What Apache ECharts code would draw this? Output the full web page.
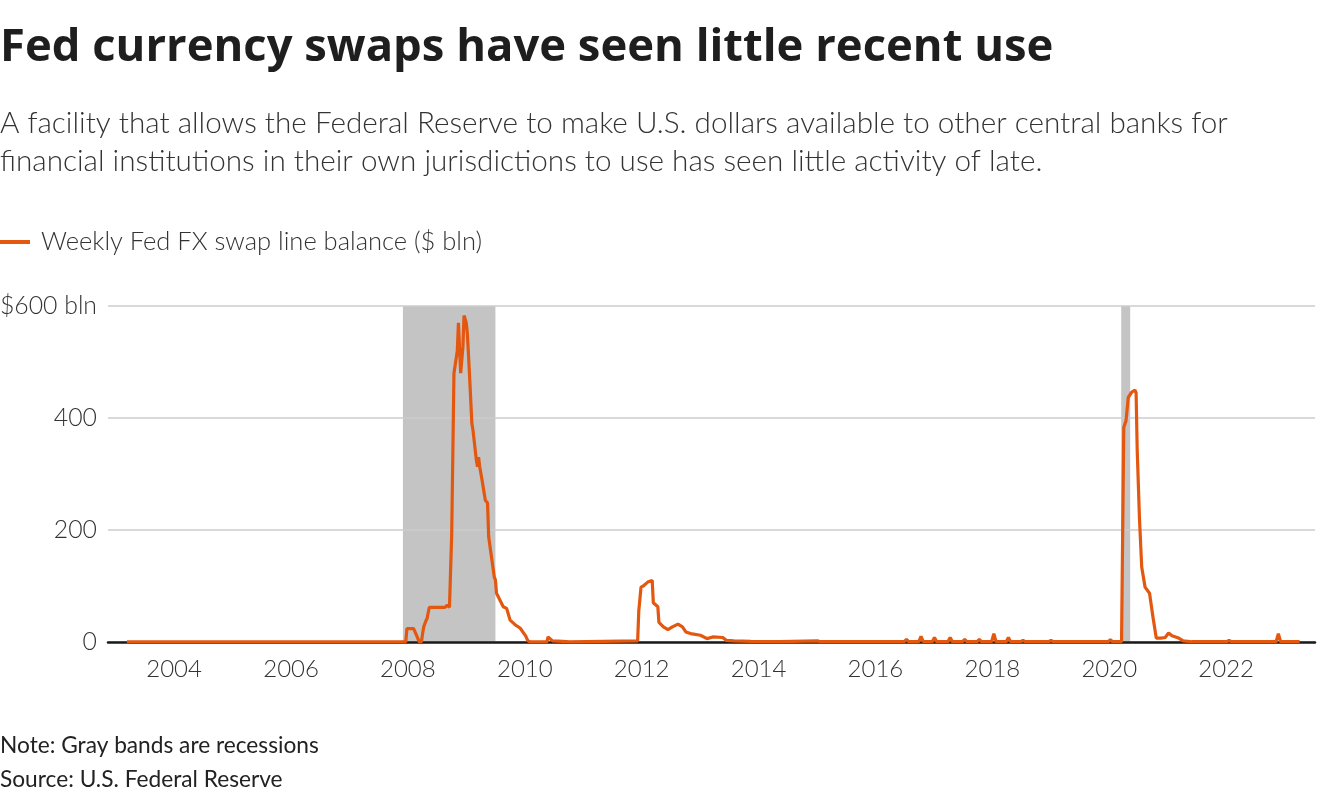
<!DOCTYPE html>
<html>
<head>
<meta charset="utf-8">
<script src="https://cdn.jsdelivr.net/npm/echarts@6/dist/echarts.min.js"></script>
<style>
html,body{margin:0;padding:0;background:#fff;}
#chart{width:1320px;height:800px;}
</style>
</head>
<body>
<div id="chart"></div>
<script>
// ---- data ----
const dates = [
'2003-03-12','2007-12-19','2007-12-26','2008-02-06','2008-02-27','2008-03-12','2008-03-26',
'2008-04-02','2008-04-09','2008-04-23','2008-04-30','2008-05-14','2008-08-20','2008-09-03','2008-09-17',
'2008-10-01','2008-10-15','2008-11-05','2008-11-12','2008-11-26','2008-12-10','2008-12-17','2008-12-31',
'2009-01-07','2009-01-21','2009-02-04','2009-02-11','2009-03-04','2009-03-11','2009-03-18','2009-03-25',
'2009-04-08','2009-04-29','2009-05-13','2009-05-20','2009-06-03','2009-06-24','2009-07-01','2009-07-08',
'2009-07-29','2009-08-19','2009-09-09','2009-10-01','2009-11-04','2009-12-02','2010-01-06','2010-01-20',
'2010-02-03','2010-05-19','2010-05-26','2010-06-23','2010-08-25','2010-10-06',
'2011-12-07','2011-12-14','2011-12-28','2012-01-11','2012-02-08','2012-03-07','2012-03-14','2012-04-11',
'2012-04-18','2012-05-16','2012-06-13','2012-07-11','2012-08-15','2012-09-12','2012-10-03','2012-11-02',
'2013-01-02','2013-02-13','2013-03-20','2013-05-22','2013-06-12','2013-07-31','2013-11-13','2014-05-14',
'2015-01-07','2015-01-21','2016-06-29','2016-07-13','2016-07-27','2016-09-28','2016-10-12','2016-10-26',
'2016-12-21','2017-01-04','2017-01-18','2017-03-29','2017-04-12','2017-04-26','2017-06-28','2017-07-12','2017-07-26',
'2017-09-27','2017-10-11','2017-10-25','2017-12-27','2018-01-10','2018-01-24','2018-03-28','2018-04-11','2018-04-25',
'2018-06-27','2018-07-11','2018-07-25','2018-12-19','2019-01-02','2019-01-16','2019-12-25','2020-01-08','2020-01-22',
'2020-03-18','2020-03-25','2020-04-01','2020-04-15','2020-04-29','2020-05-20','2020-06-10','2020-06-17',
'2020-06-24','2020-07-08','2020-07-22','2020-08-12','2020-09-09','2020-09-30','2020-10-21','2020-11-18',
'2020-12-16','2021-01-06','2021-01-27','2021-03-10','2021-04-07','2021-06-02',
'2022-01-05','2022-01-19','2022-02-02','2022-11-09','2022-11-23','2022-12-07','2023-04-05'
];
const balances = [
0.3,0.3,24,24,10,0.3,0.3,
15,27,38,42,62,62,66,62,
193,480,520,570,480,527,583,570,
550,473,390,378,325,313,330,313,
290,253,248,188,159,116,111,87,
75,63,60,39,30,25,11,2,
0.3,0.3,9,2,1,0.3,
2,55,98,100,107,110,70,63,
35,27,22,27,32,27,18,15,
12,6,9,8,3,2,1,0.5,
2,0.5,0.5,5,0.5,0.5,10,0.5,
0.5,8,0.5,0.5,8,0.5,0.5,5,0.5,
0.5,5,0.5,0.5,15,0.5,0.5,8,0.5,
0.5,3,0.5,0.5,3,0.5,0.5,4,0.5,
0.5,193,383,395,437,446,450,445,
342,221,134,98,87,45,7,7,
8,16,11,7,2,0.5,
0.5,3,0.5,0.5,15,0.5,0.5
];
const recessions = [['2007-12-01','2009-07-01'],['2020-03-16','2020-05-11']];
const xTickYears = ['2004','2006','2008','2010','2012','2014','2016','2018','2020','2022'];
const xRange = ['2002-11-14','2023-07-10'];

const titleText = 'Fed currency swaps have seen little recent use';
const subtitleText = 'A facility that allows the Federal Reserve to make U.S. dollars available to other central banks for\nfinancial institutions in their own jurisdictions to use has seen little activity of late.';
const noteText = 'Note: Gray bands are recessions\nSource: U.S. Federal Reserve';
const seriesName = 'Weekly Fed FX swap line balance ($ bln)';

const FONT = 'Lato, "Noto Sans", sans-serif';
const TFONT = '"Open Sans", "Noto Sans", sans-serif';
const ORANGE = '#e4570f';
const ts = (s)=>echarts.time.parse(s).getTime();

const chart = echarts.init(document.getElementById('chart'), null, {renderer:'canvas'});
const lineData = dates.map((d,i)=>[ts(d), balances[i]]);

chart.setOption({
  animation:false,
  backgroundColor:'#ffffff',
  title:[
    {text:titleText,left:0,top:21,padding:0,
     textStyle:{fontFamily:TFONT,fontWeight:700,fontSize:45.4,lineHeight:54,color:'#1e1e1e'}},
    {text:subtitleText,left:0,top:104,padding:0,
     textStyle:{fontFamily:FONT,fontWeight:300,fontSize:29.7,lineHeight:38,color:'#333333'}},
    {text:noteText,left:0,top:729,padding:0,
     textStyle:{fontFamily:FONT,fontWeight:400,fontSize:22.7,lineHeight:34,color:'#222222'}}
  ],
  legend:{
    left:0,top:229,padding:0,
    icon:'rect',itemWidth:30,itemHeight:4,
    textStyle:{fontFamily:FONT,fontWeight:300,fontSize:25.5,color:'#333333',padding:[0,0,0,6]},
    data:[{name:seriesName}]
  },
  grid:{left:108,right:5,top:306,bottom:158,containLabel:false,outerBoundsMode:'none'},
  xAxis:{
    type:'value',
    min:ts(xRange[0]),max:ts(xRange[1]),
    z:3,
    axisLine:{show:true,onZero:true,lineStyle:{color:'#1a1a1a',width:2.5}},
    axisTick:{show:false},
    splitLine:{show:false},
    axisLabel:{
      customValues:xTickYears.map(y=>ts(y+'-01-01')),
      formatter:(v)=>String(new Date(v).getFullYear()),
      fontFamily:FONT,fontWeight:300,fontSize:24,color:'#333333',margin:15
    }
  },
  yAxis:{
    type:'value',min:0,max:600,interval:200,
    z:2,
    axisLine:{show:false},axisTick:{show:false},
    splitLine:{show:true,lineStyle:{color:'#cccccc',width:1.5}},
    axisLabel:{
      formatter:(v)=> v===600 ? '$600 bln' : String(v),
      fontFamily:FONT,fontWeight:300,fontSize:24.8,color:'#333333',margin:11
    }
  },
  series:[
    {
      name:'recessions',type:'line',data:[],z:1,silent:true,
      markArea:{silent:true,itemStyle:{color:'#c4c4c4'},
        data:recessions.map(r=>[{xAxis:ts(r[0])},{xAxis:ts(r[1])}])}
    },
    {
      name:seriesName,type:'line',data:lineData,z:5,
      showSymbol:false,symbol:'none',
      lineStyle:{color:ORANGE,width:3.2},
      itemStyle:{color:ORANGE}
    }
  ]
});
</script>
</body>
</html>
